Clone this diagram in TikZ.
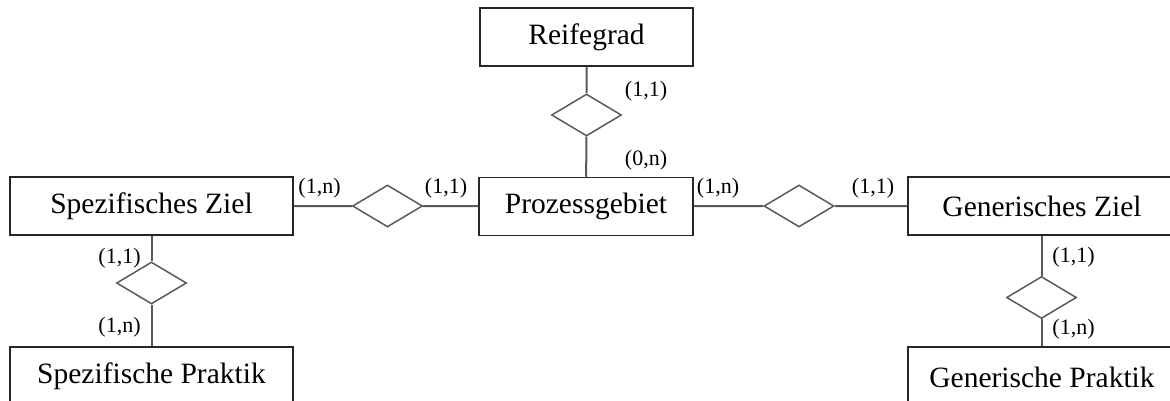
\documentclass[tikz,border=0pt]{standalone}
\usepackage{fontspec}
\setmainfont{Liberation Serif}
\usetikzlibrary{shapes.geometric}

\begin{document}
\begin{tikzpicture}[x=1pt,y=-1pt,
        entity/.style={draw=black!85,line width=1.5pt,minimum width=283pt,minimum height=58pt,
            inner sep=0pt,font=\fontsize{29.5}{33}\selectfont},
        caption/.style={inner sep=0pt,font=\fontsize{29.5}{33}\selectfont},
        relation/.style={draw=black!65,line width=1.5pt,diamond,minimum width=70pt,
            minimum height=42pt,inner sep=0pt},
        conn/.style={draw=black!65,line width=2pt},
        card/.style={inner sep=0pt,font=\fontsize{22}{26}\selectfont}]
        \useasboundingbox (0,0) rectangle (1170,401);
        % entities
        \node[entity,minimum width=213pt] (rg) at (586.5,37) {Reifegrad};
        \node[entity,minimum width=214pt] (pg) at (586,206.5) {Prozessgebiet};
        \node[entity] (sz) at (151.5,206) {Spezifisches Ziel};
        \node[entity] (sp) at (151.5,376) {Spezifische Praktik};
        % right hand boxes run off the page
        \node[entity,minimum width=300pt,anchor=west] (gz) at (907,206) {};
        \node[caption] (gzt) at (1042,206) {Generisches Ziel};
        \node[entity,minimum width=300pt,anchor=west] (gp) at (907,376) {};
        \node[caption] (gpt) at (1042,377) {Generische Praktik};
        % relations
        \node[relation] (rrg) at (586.5,115) {};
        \node[relation] (rsz) at (387.5,206) {};
        \node[relation] (rgz) at (799,206) {};
        \node[relation] (rsp) at (151.5,283) {};
        \node[relation] (rgp) at (1041.5,297.5) {};
        \draw[conn] (rg) -- (rrg) -- (pg);
        \draw[conn] (sz) -- (rsz) -- (pg);
        \draw[conn] (pg) -- (rgz) -- (gz);
        \draw[conn] (sz) -- (rsp) -- (sp);
        \draw[conn] (rgp.north |- gz.south) -- (rgp) -- (rgp.south |- gp.north);
        % cardinalities
        \node[card] (c1) at (646,91) {(1,1)};
        \node[card] (c2) at (646,160) {(0,n)};
        \node[card] (c3) at (319.5,188) {(1,n)};
        \node[card] (c4) at (446,188) {(1,1)};
        \node[card] (c5) at (718,188) {(1,n)};
        \node[card] (c6) at (873,188) {(1,1)};
        \node[card] (c7) at (119.5,258) {(1,1)};
        \node[card] (c8) at (119.5,327) {(1,n)};
        \node[card] (c9) at (1073.5,257) {(1,1)};
        \node[card] (c10) at (1073.5,329) {(1,n)};
    \end{tikzpicture}
\end{document}
